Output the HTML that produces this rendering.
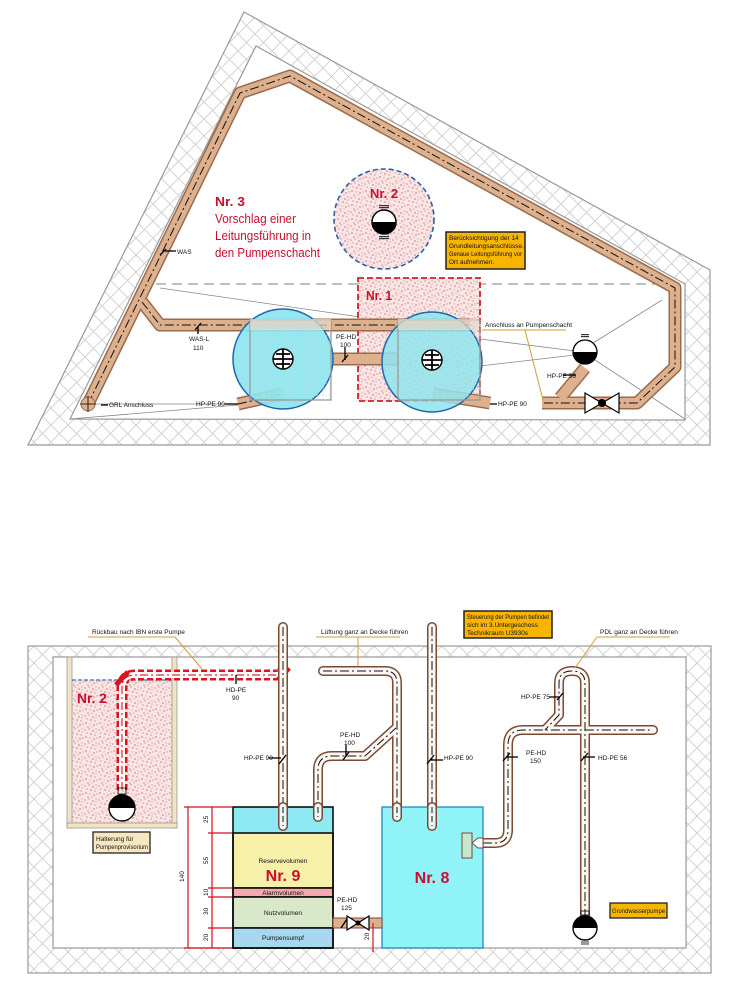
<!DOCTYPE html>
<html><head><meta charset="utf-8"><style>
html,body{margin:0;padding:0;background:#fff;}
svg{display:block;}
text{font-family:"Liberation Sans",sans-serif;}
.s{font-size:6.5px;fill:#111;}
</style></head><body>
<svg width="733" height="997" viewBox="0 0 733 997" xmlns="http://www.w3.org/2000/svg">
<defs>
<pattern id="hatch" width="17" height="17" patternUnits="userSpaceOnUse">
<rect width="17" height="17" fill="#fff"/>
<path d="M0,0 L17,17 M17,0 L0,17" stroke="#cfcfcf" stroke-width="0.9"/>
</pattern>
<pattern id="spk" width="14" height="14" patternUnits="userSpaceOnUse">
<rect width="14" height="14" fill="#f8e6e6"/>
<g fill="#e28a8a">
<circle cx="1" cy="2" r="0.8"/><circle cx="5" cy="1" r="0.7"/><circle cx="9" cy="3" r="0.9"/><circle cx="12" cy="1" r="0.6"/>
<circle cx="3" cy="5" r="0.7"/><circle cx="7" cy="6" r="0.9"/><circle cx="11" cy="7" r="0.7"/><circle cx="2" cy="9" r="0.9"/>
<circle cx="6" cy="10" r="0.6"/><circle cx="10" cy="11" r="0.9"/><circle cx="13" cy="10" r="0.7"/><circle cx="4" cy="13" r="0.8"/>
<circle cx="8" cy="13" r="0.6"/><circle cx="12" cy="4" r="0.6"/>
</g></pattern>
<pattern id="grid" width="6" height="6" patternUnits="userSpaceOnUse">
<path d="M6,0 V6 M0,6 H6" stroke="#c8d8dc" stroke-width="0.6" fill="none"/>
</pattern>
</defs>

<!-- ============ TOP SECTION ============ -->
<polygon points="244,12 710,270 710,445 28,445" fill="url(#hatch)" stroke="#999" stroke-width="1.2"/>
<polygon points="256,46 685,284 685,420 70,419" fill="#fff" stroke="#999" stroke-width="1.2"/>
<line x1="140" y1="284" x2="685" y2="284" stroke="#999" stroke-width="1.2" stroke-dasharray="10,6"/>
<g stroke="#888" stroke-width="0.8" fill="none">
<line x1="160" y1="288" x2="360" y2="317"/>
<line x1="88" y1="404" x2="238" y2="404"/>
<line x1="70" y1="419" x2="238" y2="405"/>
<line x1="365" y1="384" x2="395" y2="380"/>
<line x1="480" y1="339" x2="575" y2="351"/>
<line x1="480" y1="366" x2="575" y2="355"/>
<line x1="590" y1="345" x2="662" y2="300"/>
<line x1="595" y1="360" x2="685" y2="419"/>
</g>

<circle cx="384" cy="219" r="50" fill="url(#spk)" stroke="#2b62a8" stroke-width="1.6" stroke-dasharray="5,3"/>
<text x="370" y="198" font-size="13" font-weight="bold" fill="#c8102e" textLength="28" lengthAdjust="spacingAndGlyphs">Nr. 2</text>
<g transform="translate(384,222)">
<rect x="-5" y="-17" width="10" height="1.2" fill="#333"/><rect x="-5" y="-15" width="10" height="1.2" fill="#333"/>
<circle r="12" fill="#fff" stroke="#000" stroke-width="1.5"/>
<path d="M-12,0 A12,12 0 0 0 12,0 Z" fill="#000"/>
<path d="M-9,0 L0,12 L9,0 Z" fill="#000"/>
<rect x="-5" y="14" width="10" height="1.2" fill="#333"/><rect x="-5" y="16" width="10" height="1.2" fill="#333"/>
</g>

<rect x="358" y="278" width="122" height="123" fill="url(#spk)" stroke="#d0202a" stroke-width="1.8" stroke-dasharray="6,3"/>
<text x="366" y="300" font-size="13" font-weight="bold" fill="#c8102e" textLength="26" lengthAdjust="spacingAndGlyphs">Nr. 1</text>

<g fill="none" stroke-linejoin="round">
<g stroke="#9a6a4c" stroke-width="13">
<polyline points="88,404 240,93 290,76 675,288 675,367 637,403 542,403"/>
<polyline points="142,302 160,325 470,325"/>
<line x1="331" y1="359" x2="398" y2="359"/>
<line x1="238" y1="404" x2="283" y2="394"/>
<line x1="433" y1="394" x2="490" y2="403"/>
<line x1="585" y1="368" x2="560" y2="398"/>
</g>
<g stroke="#ddb08e" stroke-width="10">
<polyline points="88,404 240,93 290,76 675,288 675,367 637,403 542,403"/>
<polyline points="142,302 160,325 470,325"/>
<line x1="331" y1="359" x2="398" y2="359"/>
<line x1="238" y1="404" x2="283" y2="394"/>
<line x1="433" y1="394" x2="490" y2="403"/>
<line x1="585" y1="368" x2="560" y2="398"/>
</g>
<g stroke="#111" stroke-width="1" stroke-dasharray="9,3,2,3">
<polyline points="88,404 240,93 290,76 675,288 675,367 637,403 542,403"/>
<polyline points="142,302 160,325 470,325"/>
<line x1="238" y1="404" x2="283" y2="394"/>
</g>
</g>
<circle cx="88" cy="404" r="7" fill="#ddb08e" stroke="#9a6a4c"/>
<path d="M80,404 H96 M88,396 V412" stroke="#000" stroke-width="0.8"/>

<circle cx="283" cy="359" r="50" fill="#8fe4ef" fill-opacity="0.92" stroke="#1f66b0" stroke-width="1.5"/>
<circle cx="432" cy="362" r="50" fill="#8fe4ef" fill-opacity="0.85" stroke="#1f66b0" stroke-width="1.5"/>
<rect x="250" y="320" width="81" height="80" fill="url(#grid)" stroke="#999" stroke-width="1.3"/>
<rect x="398" y="320" width="82" height="80" fill="url(#grid)" stroke="#999" stroke-width="1.3"/>
<rect x="250" y="319" width="81" height="11" fill="#e8d7c8" opacity="0.7"/>
<rect x="398" y="319" width="80" height="11" fill="#e8d7c8" opacity="0.7"/>
<g>
<circle cx="283" cy="359" r="10" fill="#fff" stroke="#000" stroke-width="1.4"/>
<path d="M273,359 H293 M283,349 V369 M276,354 H290 M276,364 H290" stroke="#000" stroke-width="1.8"/>
<circle cx="432" cy="360" r="10" fill="#fff" stroke="#000" stroke-width="1.4"/>
<path d="M422,360 H442 M432,350 V370 M425,355 H439 M425,365 H439" stroke="#000" stroke-width="1.8"/>
</g>

<g transform="translate(585,352)">
<rect x="-4" y="-18" width="8" height="1.2" fill="#333"/><rect x="-4" y="-16" width="8" height="1.2" fill="#333"/>
<circle r="12" fill="#fff" stroke="#000" stroke-width="1.3"/>
<path d="M-12,0 A12,12 0 0 0 12,0 Z" fill="#000"/>
</g>
<g transform="translate(602,403)">
<path d="M-17,-10 L17,10 L17,-10 L-17,10 Z" fill="#fff" stroke="#000" stroke-width="1.2"/>
<circle r="4" fill="#000"/>
<line x1="-17" y1="-10" x2="-17" y2="10" stroke="#000"/>
</g>

<rect x="446" y="232" width="79" height="37" fill="#f7b500" stroke="#222" stroke-width="1.5"/>
<text class="s" x="449" y="240" font-size="6">Berücksichtigung der 14</text>
<text class="s" x="449" y="248" font-size="6">Grundleitungsanschlüsse.</text>
<text class="s" x="449" y="256" font-size="6" textLength="73" lengthAdjust="spacingAndGlyphs">Genaue Leitungsführung vor</text>
<text class="s" x="449" y="264" font-size="6">Ort aufnehmen.</text>

<g fill="#c8102e" font-size="12.5">
<text x="215" y="206" font-weight="bold" textLength="30" lengthAdjust="spacingAndGlyphs">Nr. 3</text>
<text x="215" y="223" textLength="81" lengthAdjust="spacingAndGlyphs">Vorschlag einer</text>
<text x="215" y="240" textLength="96" lengthAdjust="spacingAndGlyphs">Leitungsführung in</text>
<text x="215" y="257" textLength="105" lengthAdjust="spacingAndGlyphs">den Pumpenschacht</text>
</g>

<g stroke="#000" stroke-width="1.3">
<line x1="165" y1="251" x2="176" y2="251"/><line x1="160" y1="255" x2="166" y2="249"/>
<line x1="198" y1="327" x2="198" y2="334"/><line x1="195" y1="330" x2="201" y2="323"/>
<line x1="101" y1="405" x2="108" y2="405"/>
<line x1="225" y1="404" x2="238" y2="404"/>
<line x1="345" y1="347" x2="345" y2="360"/><line x1="342" y1="362" x2="348" y2="355"/>
<line x1="563" y1="375" x2="576" y2="375"/>
<line x1="490" y1="404" x2="497" y2="404"/>
</g>
<text class="s" x="177" y="254">WAS</text>
<text class="s" x="189" y="341">WAS-L</text>
<text class="s" x="193" y="350">110</text>
<text class="s" x="109" y="407">GRL Anschluss</text>
<text class="s" x="196" y="406">HP-PE 90</text>
<text class="s" x="336" y="339">PE-HD</text>
<text class="s" x="340" y="347">100</text>
<text class="s" x="547" y="378">HP-PE 56</text>
<text class="s" x="498" y="406">HP-PE 90</text>
<text class="s" x="485" y="327">Anschluss an Pumpenschacht</text>
<line x1="482" y1="330" x2="566" y2="330" stroke="#d49a3a" stroke-width="1"/>
<line x1="525" y1="330" x2="543" y2="400" stroke="#d49a3a" stroke-width="1"/>

<!-- ============ BOTTOM SECTION ============ -->
<rect x="28" y="646" width="683" height="327" fill="url(#hatch)" stroke="#999" stroke-width="1.2"/>
<rect x="53" y="657" width="633" height="291" fill="#fff" stroke="#999" stroke-width="1.2"/>

<rect x="72" y="680" width="100" height="143" fill="url(#spk)"/>
<rect x="67" y="657" width="5" height="171" fill="#f0e4c4" stroke="#999" stroke-width="0.8"/>
<rect x="172" y="657" width="5" height="171" fill="#f0e4c4" stroke="#999" stroke-width="0.8"/>
<rect x="67" y="823" width="110" height="5" fill="#f0e4c4" stroke="#999" stroke-width="0.8"/>
<line x1="72" y1="680" x2="172" y2="680" stroke="#2b78c8" stroke-width="1.2" stroke-dasharray="4,2"/>
<text x="77" y="703" font-size="14" font-weight="bold" fill="#c8102e" textLength="30" lengthAdjust="spacingAndGlyphs">Nr. 2</text>

<g fill="none">
<path d="M122,790 V688 Q122,675 135,675 H276 Q283,675 283,668" stroke="#e0101e" stroke-width="11" stroke-dasharray="6,3"/>
<path d="M122,790 V688 Q122,675 135,675 H276 Q283,675 283,668" stroke="#fff" stroke-width="6"/>
<path d="M122,790 V688 Q122,675 135,675 H276" stroke="#c00" stroke-width="1" stroke-dasharray="8,3,2,3"/>
</g>
<path d="M116,685 L128,672" stroke="#e0101e" stroke-width="5"/>
<path d="M278,680 L289,668" stroke="#e0101e" stroke-width="5"/>
<g transform="translate(122,808)">
<rect x="-4" y="-20" width="8" height="6" fill="none" stroke="#000" stroke-width="0.8"/>
<circle r="13" fill="#fff" stroke="#000" stroke-width="1.4"/>
<path d="M-13,0 A13,13 0 0 1 13,0 Z" fill="#000"/>
</g>

<g fill="none" stroke-linecap="round" stroke-linejoin="round">
<g stroke="#7a4a35" stroke-width="10">
<path d="M283,627 V826"/>
<path d="M432,627 V826"/>
<path d="M323,671 H385 Q397,671 397,683 V817"/>
<path d="M318,817 V770 Q318,756 332,756 H365 L396,728"/>
<path d="M483,843 H495 Q508,843 508,830 V745 Q508,730 523,730 H653"/>
<path d="M585,918 V683 Q585,671 572,671 Q559,671 559,683 V715 L545,730"/>
</g>
<g stroke="#fbf7f3" stroke-width="7">
<path d="M283,627 V826"/>
<path d="M432,627 V826"/>
<path d="M323,671 H385 Q397,671 397,683 V817"/>
<path d="M318,817 V770 Q318,756 332,756 H365 L396,728"/>
<path d="M483,843 H495 Q508,843 508,830 V745 Q508,730 523,730 H653"/>
<path d="M585,918 V683 Q585,671 572,671 Q559,671 559,683 V715 L545,730"/>
</g>
<g stroke="#111" stroke-width="1" stroke-dasharray="9,3,2,3" stroke-linecap="butt">
<path d="M283,627 V826"/>
<path d="M432,627 V826"/>
<path d="M323,671 H385 Q397,671 397,683 V817"/>
<path d="M318,817 V770 Q318,756 332,756 H365 L396,728"/>
<path d="M483,843 H495 Q508,843 508,830 V745 Q508,730 523,730 H653"/>
<path d="M585,918 V683 Q585,671 572,671 Q559,671 559,683 V715 L545,730"/>
</g>
</g>

<rect x="233" y="807" width="100" height="26" fill="#8fe9f2" stroke="#2288bb" stroke-width="1"/>
<rect x="233" y="833" width="100" height="55" fill="#f7f0a8" stroke="#000" stroke-width="1.5"/>
<rect x="233" y="888" width="100" height="9" fill="#f2aab0" stroke="#000" stroke-width="1.5"/>
<rect x="233" y="897" width="100" height="31" fill="#d8e8c8" stroke="#000" stroke-width="1.5"/>
<rect x="233" y="928" width="100" height="20" fill="#a8d8f0" stroke="#000" stroke-width="1.5"/>
<rect x="233" y="807" width="100" height="141" fill="none" stroke="#000" stroke-width="1.5"/>
<g fill="none">
<path d="M283,807 V826 M318,807 V817" stroke="#7a4a35" stroke-width="10" stroke-linecap="round"/>
<path d="M283,807 V826 M318,807 V817" stroke="#e8f6f8" stroke-width="7" stroke-linecap="round"/>
<path d="M283,807 V826 M318,807 V817" stroke="#111" stroke-width="1" stroke-dasharray="6,3"/>
</g>
<text class="s" x="283" y="863" text-anchor="middle" font-size="7">Reservevolumen</text>
<text x="283" y="881" text-anchor="middle" font-size="16" font-weight="bold" fill="#c8102e">Nr. 9</text>
<text class="s" x="283" y="895" text-anchor="middle" font-size="6.5">Alarmvolumen</text>
<text class="s" x="283" y="915" text-anchor="middle" font-size="7">Nutzvolumen</text>
<text class="s" x="283" y="940" text-anchor="middle" font-size="7">Pumpensumpf</text>

<rect x="382" y="807" width="101" height="141" fill="#8ff3f8" stroke="#2288bb" stroke-width="1.3"/>
<g fill="none">
<path d="M397,807 V817 M432,807 V826" stroke="#7a4a35" stroke-width="10" stroke-linecap="round"/>
<path d="M397,807 V817 M432,807 V826" stroke="#e8f8f8" stroke-width="7" stroke-linecap="round"/>
<path d="M397,807 V817 M432,807 V826" stroke="#111" stroke-width="1" stroke-dasharray="6,3"/>
</g>
<text x="432" y="883" text-anchor="middle" font-size="16" font-weight="bold" fill="#c8102e">Nr. 8</text>
<rect x="462" y="833" width="10" height="25" fill="#c8e6d0" stroke="#7a4a35" stroke-width="1"/>
<path d="M472,843 L478,838 H483 V848 H478 Z" fill="#fff" stroke="#7a4a35"/>

<rect x="333" y="918" width="49" height="10" fill="#ddb08e" stroke="#7a4a35" stroke-width="1"/>
<path d="M347,916 L369,930 L369,916 L347,930 Z" fill="#fff" stroke="#000" stroke-width="1.2"/>
<circle cx="358" cy="923" r="2.5" fill="#000"/>
<path d="M341,928 L347,919" stroke="#000" stroke-width="1.4"/>
<text class="s" x="337" y="902">PE-HD</text>
<text class="s" x="341" y="910">125</text>

<g stroke="#d0101e" stroke-width="1.2">
<line x1="188" y1="807" x2="188" y2="948"/>
<line x1="212" y1="807" x2="212" y2="948"/>
<line x1="184" y1="807" x2="232" y2="807"/>
<line x1="208" y1="833" x2="232" y2="833"/>
<line x1="208" y1="888" x2="232" y2="888"/>
<line x1="208" y1="897" x2="232" y2="897"/>
<line x1="208" y1="928" x2="232" y2="928"/>
<line x1="184" y1="948" x2="232" y2="948"/>
<line x1="373" y1="923" x2="373" y2="952"/>
</g>
<g font-size="6.5" fill="#111">
<text transform="translate(208,823) rotate(-90)">25</text>
<text transform="translate(208,864) rotate(-90)">55</text>
<text transform="translate(208,896) rotate(-90)">10</text>
<text transform="translate(208,915) rotate(-90)">30</text>
<text transform="translate(208,941) rotate(-90)">20</text>
<text transform="translate(184,882) rotate(-90)">140</text>
<text transform="translate(369,940) rotate(-90)">20</text>
</g>

<g transform="translate(585,928)">
<rect x="-4" y="-17" width="8" height="4" fill="none" stroke="#000" stroke-width="0.8"/>
<circle r="12" fill="#fff" stroke="#000" stroke-width="1.4"/>
<path d="M-12,0 A12,12 0 0 1 12,0 Z" fill="#000"/>
<path d="M-8,0 L0,-12 L8,0 Z" fill="#000"/>
<path d="M-4,14 H4 M-4,16 H4" stroke="#333"/>
</g>

<g stroke="#000" stroke-width="1.3">
<line x1="269" y1="758" x2="281" y2="758"/><line x1="279" y1="764" x2="286" y2="755"/>
<line x1="430" y1="760" x2="443" y2="760"/><line x1="427" y1="764" x2="434" y2="755"/>
<line x1="346" y1="745" x2="346" y2="757"/><line x1="343" y1="760" x2="349" y2="752"/>
<line x1="506" y1="757" x2="518" y2="757"/><line x1="503" y1="761" x2="510" y2="753"/>
<line x1="583" y1="757" x2="595" y2="757"/><line x1="581" y1="761" x2="588" y2="753"/>
<line x1="549" y1="697" x2="560" y2="697"/><line x1="557" y1="700" x2="563" y2="693"/>
<line x1="236" y1="675" x2="236" y2="684"/>
</g>
<text class="s" x="226" y="692">HD-PE</text>
<text class="s" x="232" y="700">90</text>
<text class="s" x="244" y="760">HP-PE 90</text>
<text class="s" x="444" y="760">HP-PE 90</text>
<text class="s" x="340" y="737">PE-HD</text>
<text class="s" x="344" y="745">100</text>
<text class="s" x="526" y="755">PE-HD</text>
<text class="s" x="530" y="763">150</text>
<text class="s" x="598" y="760">HD-PE 56</text>
<text class="s" x="521" y="699">HP-PE 75</text>

<text class="s" x="92" y="634">Rückbau nach IBN erste Pumpe</text>
<line x1="88" y1="637" x2="175" y2="637" stroke="#d49a3a" stroke-width="1"/>
<line x1="175" y1="637" x2="202" y2="669" stroke="#d49a3a" stroke-width="1"/>
<text class="s" x="321" y="634">Lüftung ganz an Decke führen</text>
<line x1="316" y1="637" x2="400" y2="637" stroke="#d49a3a" stroke-width="1"/>
<line x1="358" y1="637" x2="358" y2="666" stroke="#d49a3a" stroke-width="1"/>
<text class="s" x="600" y="634">PDL ganz an Decke führen</text>
<line x1="597" y1="637" x2="670" y2="637" stroke="#d49a3a" stroke-width="1"/>
<line x1="597" y1="637" x2="575" y2="668" stroke="#d49a3a" stroke-width="1"/>

<rect x="464" y="611" width="88" height="27" fill="#f7b500" stroke="#222" stroke-width="1.5"/>
<text class="s" x="467" y="619" font-size="6" textLength="82" lengthAdjust="spacingAndGlyphs">Steuerung der Pumpen befindet</text>
<text class="s" x="467" y="627" font-size="6">sich im 3.Untergeschoss</text>
<text class="s" x="467" y="635" font-size="6">Technikraum U3930s</text>

<rect x="93" y="832" width="57" height="21" fill="#f7e8c0" stroke="#222" stroke-width="1.3"/>
<text class="s" x="96" y="841">Halterung für</text>
<text class="s" x="96" y="849" textLength="52" lengthAdjust="spacingAndGlyphs">Pumpenprovisorium</text>

<rect x="610" y="903" width="57" height="15" fill="#f7b500" stroke="#222" stroke-width="1.3"/>
<text class="s" x="612" y="913" textLength="53" lengthAdjust="spacingAndGlyphs">Grundwasserpumpe</text>
</svg>
</body></html>
